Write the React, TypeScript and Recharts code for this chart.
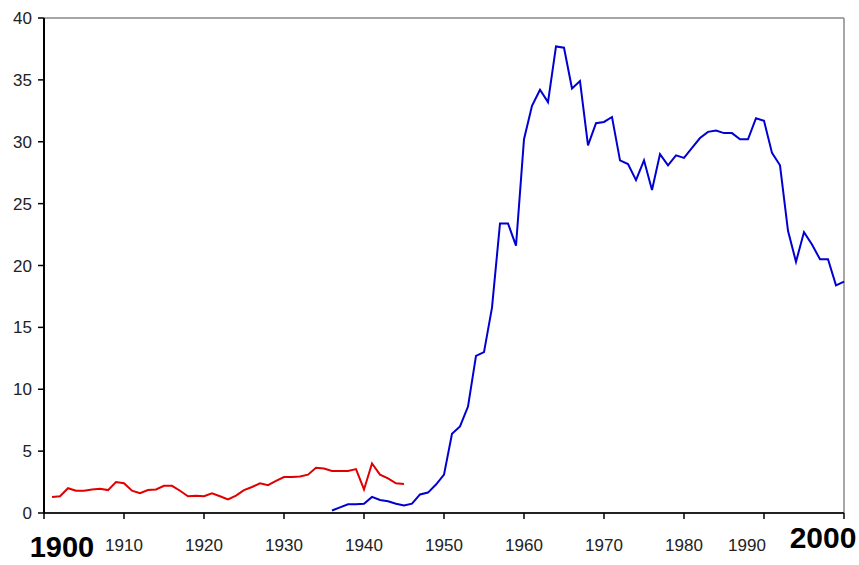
import { LineChart, Line, XAxis, YAxis, ReferenceLine } from "recharts";

// red series: 1901–1945
const redStart = 1901;
const redValues = [
  1.3, 1.35, 2.0, 1.8, 1.8, 1.9, 1.95, 1.85, 2.5, 2.4,
  1.8, 1.6, 1.85, 1.9, 2.2, 2.2, 1.8, 1.35, 1.4, 1.35,
  1.6, 1.35, 1.1, 1.4, 1.85, 2.1, 2.4, 2.25, 2.6, 2.9,
  2.9, 2.95, 3.1, 3.65, 3.6, 3.4, 3.4, 3.4, 3.55, 1.9,
  4.0, 3.1, 2.8, 2.4, 2.35,
];

// blue series: 1936–2000
const blueStart = 1936;
const blueValues = [
  0.2, 0.45, 0.7, 0.7, 0.75, 1.3, 1.05, 0.95, 0.75, 0.6,
  0.75, 1.5, 1.65, 2.3, 3.1, 6.4, 7.0, 8.6, 12.7, 13.0,
  16.6, 23.4, 23.4, 21.6, 30.2, 32.9, 34.2, 33.2, 37.7, 37.6,
  34.3, 34.9, 29.7, 31.5, 31.6, 32.0, 28.5, 28.2, 26.9, 28.5,
  26.1, 29.0, 28.1, 28.9, 28.7, 29.5, 30.3, 30.8, 30.9, 30.7,
  30.7, 30.2, 30.2, 31.9, 31.7, 29.1, 28.1, 22.8, 20.3, 22.7,
  21.7, 20.5, 20.5, 18.4, 18.7,
];

const xTicks = [1900, 1910, 1920, 1930, 1940, 1950, 1960, 1970, 1980, 1990, 2000];
const yTicks = [0, 5, 10, 15, 20, 25, 30, 35, 40];

const FONT = "'Liberation Sans', Arial, sans-serif";

const data = [];
for (let year = 1901; year <= 2000; year++) {
  const ri = year - redStart;
  const bi = year - blueStart;
  data.push({
    year,
    red: ri >= 0 && ri < redValues.length ? redValues[ri] : null,
    blue: bi >= 0 && bi < blueValues.length ? blueValues[bi] : null,
  });
}

function YearTick({ x, y, payload }: any) {
  const v = payload.value;
  if (v === 1900) {
    return (
      <text x={x + 18} y={y + 36} textAnchor="middle" fontSize={29} fontWeight="bold" fontFamily={FONT} fill="#000">
        1900
      </text>
    );
  }
  if (v === 2000) {
    return (
      <text x={x - 21} y={y + 27} textAnchor="middle" fontSize={30} fontWeight="bold" fontFamily={FONT} fill="#000">
        2000
      </text>
    );
  }
  const shift = v === 1990 ? -17 : 0;
  return (
    <text x={x + shift} y={y + 30} textAnchor="middle" fontSize={17} fontFamily={FONT} fill="#222">
      {v}
    </text>
  );
}

export default function App() {
  return (
    <div style={{ position: "absolute", left: 0, top: 0, background: "#fff" }}>
      <LineChart width={859} height={565} data={data} margin={{ top: 18, right: 15, bottom: 0, left: 0 }}>
        <ReferenceLine y={40} stroke="#888" strokeWidth={1.5} />
        <ReferenceLine x={2000} stroke="#888" strokeWidth={1.5} />
        <XAxis
          dataKey="year"
          type="number"
          domain={[1900, 2000]}
          ticks={xTicks}
          height={52}
          tickSize={6}
          tickMargin={2}
          axisLine={{ stroke: "#222", strokeWidth: 2 }}
          tickLine={{ stroke: "#000", strokeWidth: 1.5 }}
          tick={<YearTick />}
          interval={0}
        />
        <YAxis
          domain={[0, 40]}
          ticks={yTicks}
          width={44}
          tickSize={6}
          tickMargin={6}
          axisLine={{ stroke: "#000", strokeWidth: 2 }}
          tickLine={{ stroke: "#000", strokeWidth: 1.5 }}
          tick={{ fontSize: 17, fill: "#222", fontFamily: FONT }}
          interval={0}
        />
        <Line
          dataKey="red"
          stroke="#e00000"
          strokeWidth={2}
          dot={false}
          isAnimationActive={false}
        />
        <Line
          dataKey="blue"
          stroke="#0000d0"
          strokeWidth={2}
          dot={false}
          isAnimationActive={false}
        />
      </LineChart>
    </div>
  );
}
